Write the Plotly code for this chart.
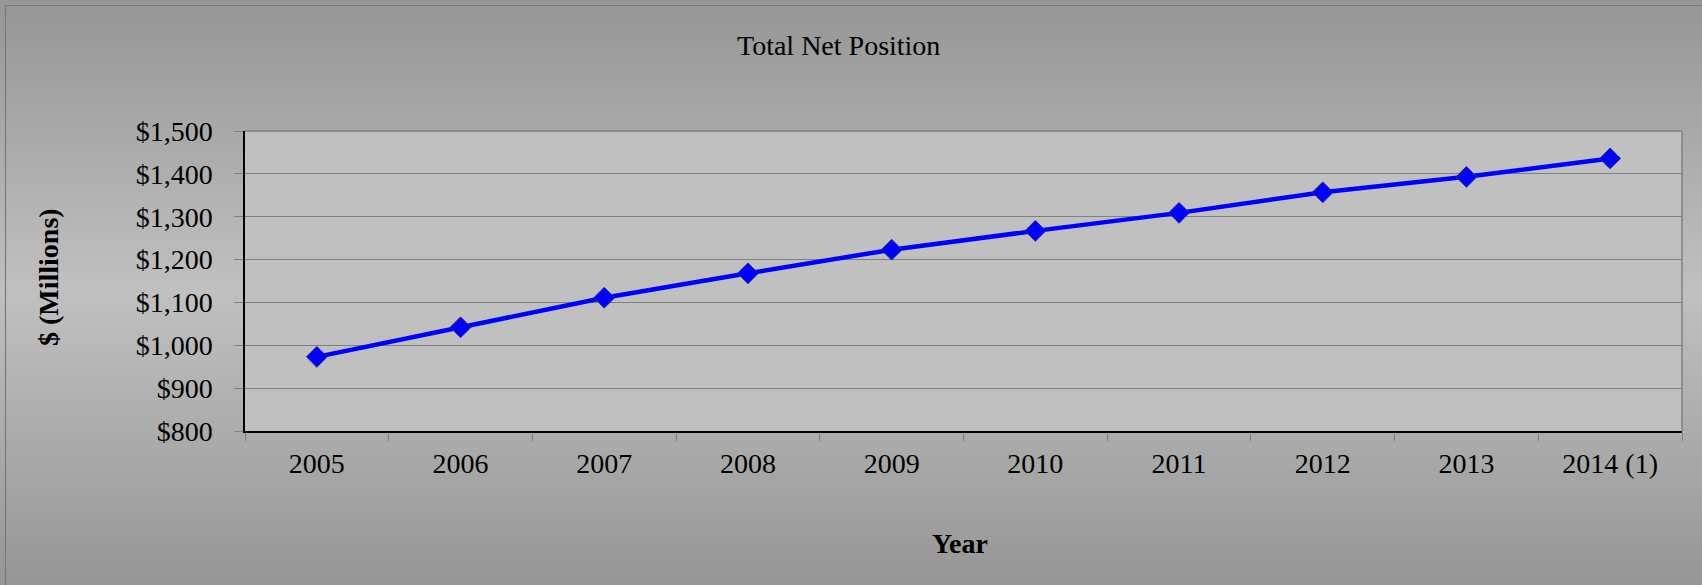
import plotly.graph_objects as go

# Fiscal years and total net position ($ millions)
years = ["2005", "2006", "2007", "2008", "2009", "2010", "2011", "2012", "2013", "2014 (1)"]
net_position = [973, 1042, 1111, 1168, 1223, 1267, 1309, 1357, 1393, 1436]

y_ticks = [800, 900, 1000, 1100, 1200, 1300, 1400, 1500]
y_tick_labels = ["$800", "$900", "$1,000", "$1,100", "$1,200", "$1,300", "$1,400", "$1,500"]

W, H = 1702, 585
L, R, T, B = 245, 20, 131, 154
pw, ph = W - L - R, H - T - B


def px_x(x):
    return (x - L) / pw


def px_y(y):
    return (H - B - y) / ph


FONT = "Liberation Serif, Times New Roman, serif"

shapes = []
# vertical gray gradient behind the whole chart (dark at edges, light in the middle)
n = 117
for i in range(n):
    y0 = i * H / n
    y1 = (i + 1) * H / n
    t = (y0 + y1) / 2 / H
    c = int(round(150 + 42 * (1 - abs(2 * t - 1))))
    shapes.append(dict(type="rect", xref="paper", yref="paper", layer="below",
                       x0=px_x(0), x1=px_x(W), y0=px_y(y1), y1=px_y(y0),
                       line=dict(width=0), fillcolor=f"rgb({c},{c},{c})"))
# plot area fill
shapes.append(dict(type="rect", xref="paper", yref="paper", layer="below",
                   x0=0, x1=1, y0=0, y1=1, line=dict(width=0), fillcolor="#c0c0c0"))
# plot area right/top border
shapes.append(dict(type="line", xref="paper", yref="paper", x0=1, x1=1, y0=0, y1=1,
                   line=dict(color="#808080", width=1.5)))
shapes.append(dict(type="line", xref="paper", yref="paper", x0=0, x1=1, y0=1, y1=1,
                   line=dict(color="#808080", width=1.5)))
# chart frame
shapes.append(dict(type="rect", xref="paper", yref="paper",
                   x0=px_x(5.5), x1=px_x(W + 2), y0=px_y(H + 2), y1=px_y(5.5),
                   line=dict(color="#7a7a7a", width=1.2), fillcolor="rgba(0,0,0,0)"))

fig = go.Figure(go.Scatter(
    x=years, y=net_position, mode="lines+markers",
    line=dict(color="#0000ff", width=4.5),
    marker=dict(symbol="diamond", size=16, color="#0000ff",
                line=dict(color="#2a2a8a", width=1)),
    cliponaxis=False,
))

fig.update_layout(
    width=W, height=H,
    margin=dict(l=L, r=R, t=T, b=B),
    paper_bgcolor="#a8a8a8",
    plot_bgcolor="rgba(0,0,0,0)",
    showlegend=False,
    font=dict(family=FONT, size=28, color="black"),
    shapes=shapes,
    annotations=[
        dict(text="Total Net Position", xref="paper", yref="paper",
             x=px_x(838), y=px_y(46), xanchor="center", yanchor="middle",
             showarrow=False, font=dict(family=FONT, size=28, color="black")),
        dict(text="<b>$ (Millions)</b>", xref="paper", yref="paper",
             x=px_x(48), y=px_y(277), xanchor="center", yanchor="middle",
             textangle=-90, showarrow=False,
             font=dict(family=FONT, size=28, color="black")),
        dict(text="<b>Year</b>", xref="paper", yref="paper",
             x=px_x(960), y=px_y(543), xanchor="center", yanchor="middle",
             showarrow=False, font=dict(family=FONT, size=28, color="black")),
    ],
)

fig.update_xaxes(
    type="category", range=[-0.5, len(years) - 0.5],
    showline=True, linecolor="black", linewidth=1.5,
    ticks="outside", tickson="boundaries", ticklen=8, tickcolor="#808080", tickwidth=1,
    showgrid=False, ticklabelstandoff=7,
    tickfont=dict(family=FONT, size=28, color="black"),
)
fig.update_yaxes(
    range=[800, 1500], tickvals=y_ticks, ticktext=y_tick_labels,
    showline=True, linecolor="black", linewidth=1.5,
    ticks="outside", ticklen=9, tickcolor="#808080", tickwidth=1,
    showgrid=True, gridcolor="#808080", gridwidth=1, zeroline=False,
    ticklabelstandoff=16,
    tickfont=dict(family=FONT, size=28, color="black"),
)

fig.write_html("out.html")
